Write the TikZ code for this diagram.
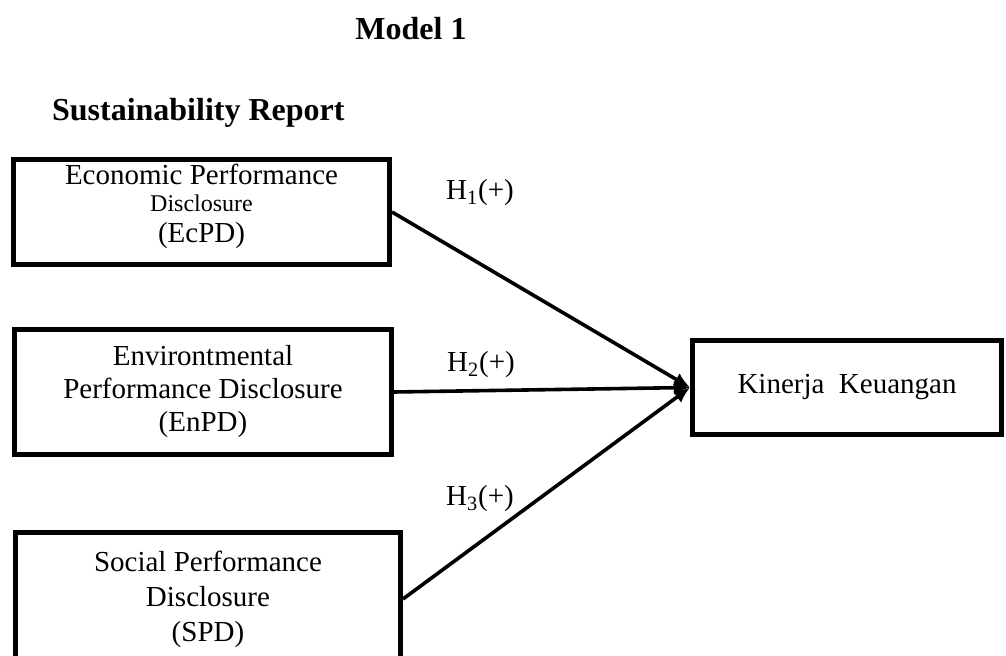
\documentclass[tikz,border=0pt]{standalone}
\usepackage{fontspec}
\setmainfont{Liberation Serif}
\usetikzlibrary{arrows.meta}

\begin{document}
\begin{tikzpicture}[x=0.5pt,y=-0.5pt,
  box/.style={draw,line width=2.5pt,align=center,inner sep=0pt,
    font=\fontsize{14.5}{16.5}\selectfont},
  hyp/.style={font=\fontsize{14.5}{16.5}\selectfont},
  title/.style={font=\fontsize{16}{19}\selectfont\bfseries},
  link/.style={line width=1.8pt,-{Latex[length=8pt,width=7pt]}}]
\useasboundingbox (0,0) rectangle (1006,656);

\node[title,anchor=base] (model) at (411,40) {Model 1};
\node[title,anchor=base west] (sr) at (45,121) {Sustainability Report};

\node[box,minimum width=188pt,minimum height=52.5pt] (EcPD) at (201.5,212)
  {Economic Performance\\[-3pt] {\fontsize{12}{14}\selectfont Disclosure}\\[-1pt] (EcPD)\\[-8pt]};
\node[box,minimum width=188.5pt,minimum height=62.5pt] (EnPD) at (203,392)
  {Environtmental\\ Performance Disclosure\\ (EnPD)};
\node[box,minimum width=192.5pt,minimum height=66pt] (SPD) at (208,599)
  {Social Performance\\[1pt] Disclosure\\[1pt] (SPD)};
\node[box,minimum width=154.5pt,minimum height=47pt] (KK) at (847,387.5)
  {Kinerja\ \ Keuangan};

\node[hyp] (h1) at (480,193) {H\textsubscript{1}(+)};
\node[hyp] (h2) at (481,365) {H\textsubscript{2}(+)};
\node[hyp] (h3) at (480,499) {H\textsubscript{3}(+)};

\draw[link] (EcPD.east) -- (KK.west);
\draw[link] (EnPD.east) -- (KK.west);
\draw[link] (SPD.east) -- (KK.west);
\end{tikzpicture}
\end{document}
